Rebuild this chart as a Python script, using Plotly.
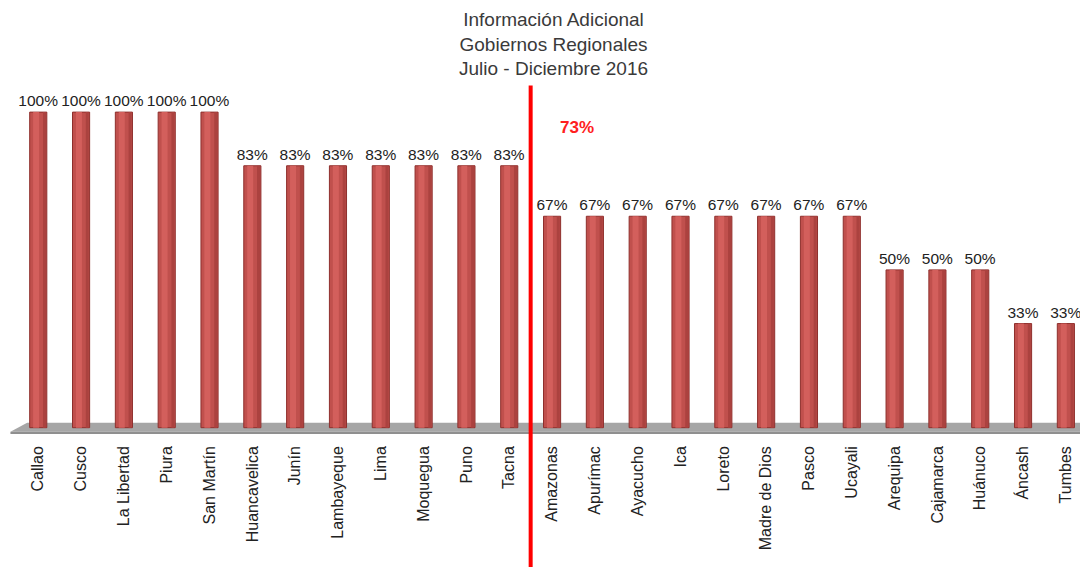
import plotly.graph_objects as go

regions = ["Callao", "Cusco", "La Libertad", "Piura", "San Martín", "Huancavelica", "Junín",
           "Lambayeque", "Lima", "Moquegua", "Puno", "Tacna", "Amazonas", "Apurímac", "Ayacucho",
           "Ica", "Loreto", "Madre de Dios", "Pasco", "Ucayali", "Arequipa", "Cajamarca",
           "Huánuco", "Áncash", "Tumbes"]
values = [1.00, 1.00, 1.00, 1.00, 1.00, 0.83, 0.83, 0.83, 0.83, 0.83, 0.83, 0.83,
          0.67, 0.67, 0.67, 0.67, 0.67, 0.67, 0.67, 0.67, 0.50, 0.50, 0.50, 0.33, 0.33]
labels = ["100%", "100%", "100%", "100%", "100%", "83%", "83%", "83%", "83%", "83%", "83%", "83%",
          "67%", "67%", "67%", "67%", "67%", "67%", "67%", "67%", "50%", "50%", "50%", "33%", "33%"]
average = 0.73
average_label = "73%"
title_lines = ["Información Adicional", "Gobiernos Regionales", "Julio - Diciembre 2016"]

FONT = "Arial, Liberation Sans, sans-serif"
xmin, xmax = -0.66, 24.33
ymin, ymax = -0.02, 1.2
idx = list(range(len(regions)))

fig = go.Figure()
# main cylinder body
fig.add_trace(go.Bar(
    x=idx, y=values, width=0.40,
    marker=dict(color="#c0504d", line=dict(color="#8e2f2c", width=1)),
    text=labels, textposition="outside", cliponaxis=False, constraintext="none",
    textfont=dict(family=FONT, size=15.5, color="#222222"),
    hoverinfo="skip", showlegend=False,
))
# highlight stripe for cylinder look
fig.add_trace(go.Bar(
    x=idx, y=values, width=0.14, offset=-0.12,
    marker=dict(color="#d35f5c", line=dict(width=0)),
    hoverinfo="skip", showlegend=False,
))
# darker right side
fig.add_trace(go.Bar(
    x=idx, y=values, width=0.07, offset=0.11,
    marker=dict(color="#ab423f", line=dict(width=0)),
    hoverinfo="skip", showlegend=False,
))

# floor
fig.add_shape(type="path", xref="x", yref="y", layer="below",
              path=f"M {xmin+0.01},-0.013 L -0.26,0.016 L {xmax},0.016 L {xmax},-0.013 Z",
              fillcolor="#a6a6a6", line=dict(width=0))
fig.add_shape(type="path", xref="x", yref="y", layer="below",
              path=f"M {xmin+0.01},-0.013 L {xmax},-0.013 L {xmax},-0.02 L {xmin+0.01},-0.02 Z",
              fillcolor="#8f8f8f", line=dict(width=0))

# average line between Tacna and Amazonas
line_x = (11.5 - xmin) / (xmax - xmin)
fig.add_shape(type="line", xref="paper", yref="paper", x0=line_x, x1=line_x,
              y0=-0.35, y1=0.905, line=dict(color="#ff0000", width=4), layer="above")
fig.add_annotation(x=12.58, y=0.952, xref="x", yref="y", text=f"<b>{average_label}</b>",
                   showarrow=False, font=dict(family=FONT, size=17, color="#ff2020"))

# title
fig.add_annotation(x=(553 - 10) / 1070, y=1 + 42 / 385, xref="paper", yref="paper",
                   xanchor="center", yanchor="top", showarrow=False,
                   text="<br>".join(title_lines), align="center",
                   font=dict(family=FONT, size=19, color="#3a3a3a"))

fig.update_layout(
    width=1080, height=567,
    margin=dict(l=10, r=0, t=49, b=133, autoexpand=False),
    paper_bgcolor="white", plot_bgcolor="white",
    barmode="overlay",
    xaxis=dict(range=[xmin, xmax], tickmode="array", tickvals=idx, ticktext=regions,
               tickangle=-90, showgrid=False, zeroline=False, showline=False, ticks="",
               automargin=False, ticklabelstandoff=8,
               tickfont=dict(family=FONT, size=16, color="#222222")),
    yaxis=dict(range=[ymin, ymax], visible=False, showgrid=False, zeroline=False,
               automargin=False),
)

fig.write_html("out.html", config={"displayModeBar": False},
               post_script="document.body.style.margin='0';document.body.style.overflow='hidden';")
